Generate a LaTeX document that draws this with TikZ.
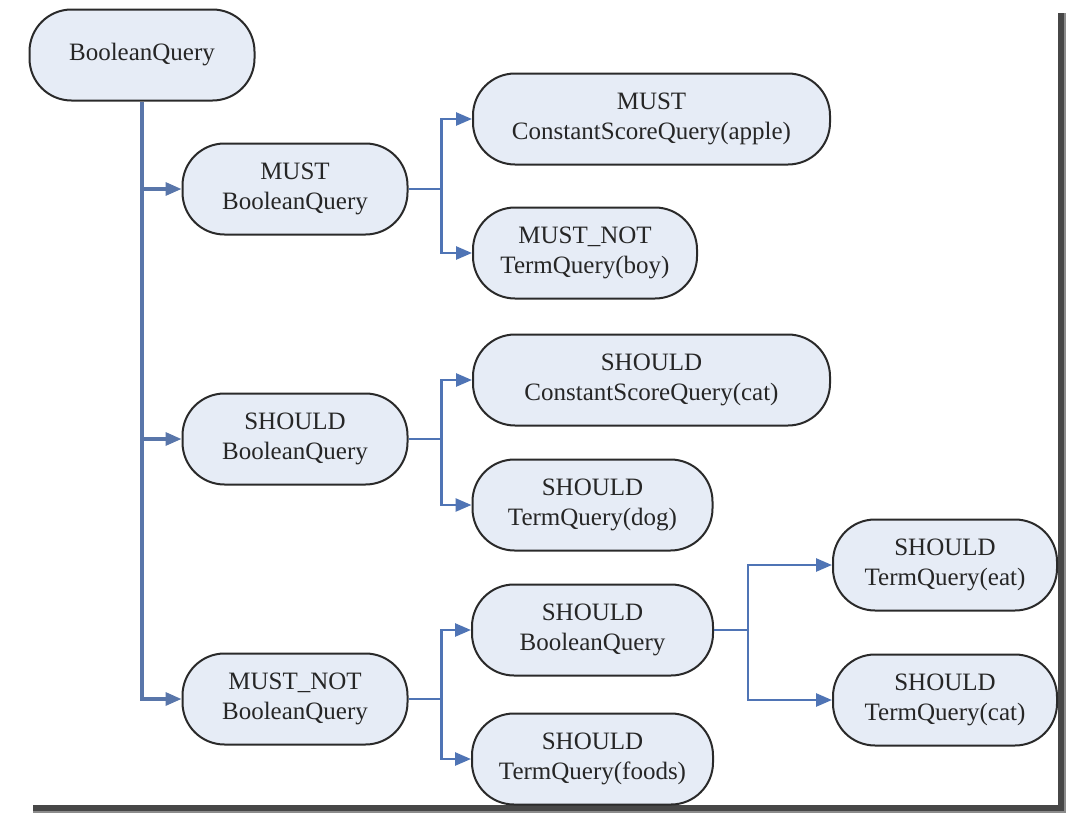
\documentclass[tikz,border=0pt]{standalone}
\usepackage{fontspec}
\setmainfont{Liberation Serif}
\usetikzlibrary{arrows.meta,calc}
\definecolor{nodefill}{HTML}{E6ECF6}
\definecolor{nodeline}{HTML}{2A2A2A}
\definecolor{linkblue}{HTML}{4F74B5}
\definecolor{txt}{HTML}{262626}
\tikzset{
  qnode/.style={draw=nodeline, line width=2pt, fill=nodefill, rounded corners=42pt,
    minimum height=91pt, inner sep=0pt, align=center, text=txt,
    font=\fontsize{25pt}{30pt}\selectfont},
  link/.style={draw=linkblue, line width=2.6pt},
  trunk/.style={draw=linkblue!80!gray, line width=3.2pt},
  arr/.style={link, -{Triangle[length=16pt,width=13pt]}},
  tarr/.style={trunk, -{Triangle[length=16pt,width=13pt]}},
}
\begin{document}
\begin{tikzpicture}[x=1pt,y=-1pt]
\useasboundingbox (0,0) rectangle (1068,814);
\fill[white] (0,0) rectangle (1068,814);
% frame shadow
\fill[black!72] (1058,13) rectangle (1066,813);
\fill[black!72] (33,805) rectangle (1066,813);
\fill[black!45] (1064,13) rectangle (1066,813);
\fill[black!45] (33,811) rectangle (1066,813);

% nodes
\node[qnode, minimum width=225pt] (root) at (142,55) {BooleanQuery};
\node[qnode, minimum width=225pt] (mustBQ) at (295,189) {MUST\\BooleanQuery};
\node[qnode, minimum width=225pt] (shouldBQ) at (295,439) {SHOULD\\BooleanQuery};
\node[qnode, minimum width=225pt] (mustnotBQ) at (295,699) {MUST\_NOT\\BooleanQuery};

\node[qnode, minimum width=357pt] (apple) at (651.5,119) {MUST\\ConstantScoreQuery(apple)};
\node[qnode, minimum width=224pt] (boy) at (585,253) {MUST\_NOT\\TermQuery(boy)};

\node[qnode, minimum width=357pt] (csqcat) at (651.5,380) {SHOULD\\ConstantScoreQuery(cat)};
\node[qnode, minimum width=240pt] (dog) at (592.5,505) {SHOULD\\TermQuery(dog)};

\node[qnode, minimum width=241pt] (shBQ3) at (592.5,630) {SHOULD\\BooleanQuery};
\node[qnode, minimum width=241pt] (foods) at (592.5,759) {SHOULD\\TermQuery(foods)};

\node[qnode, minimum width=224pt] (eat) at (945,565) {SHOULD\\TermQuery(eat)};
\node[qnode, minimum width=224pt] (cat) at (945,700) {SHOULD\\TermQuery(cat)};

% trunk
\draw[tarr] (root.south) |- (mustnotBQ.west);
\draw[tarr] (root.south |- mustBQ.west) -- (mustBQ.west);
\draw[tarr] (root.south |- shouldBQ.west) -- (shouldBQ.west);

% branch from MUST BooleanQuery
\coordinate (b1) at ($(mustBQ.east)+(33,0)$);
\draw[link] (mustBQ.east) -- (b1);
\draw[arr] (b1) |- (apple.west);
\draw[arr] (b1) |- (boy.west);

% branch from SHOULD BooleanQuery
\coordinate (b2) at ($(shouldBQ.east)+(33,0)$);
\draw[link] (shouldBQ.east) -- (b2);
\draw[arr] (b2) |- (csqcat.west);
\draw[arr] (b2) |- (dog.west);

% branch from MUST_NOT BooleanQuery
\coordinate (b3) at ($(mustnotBQ.east)+(33,0)$);
\draw[link] (mustnotBQ.east) -- (b3);
\draw[arr] (b3) |- (shBQ3.west);
\draw[arr] (b3) |- (foods.west);

% branch from SHOULD BooleanQuery (third level)
\coordinate (b4) at ($(shBQ3.east)+(34,0)$);
\draw[link] (shBQ3.east) -- (b4);
\draw[arr] (b4) |- (eat.west);
\draw[arr] (b4) |- (cat.west);
\end{tikzpicture}
\end{document}
